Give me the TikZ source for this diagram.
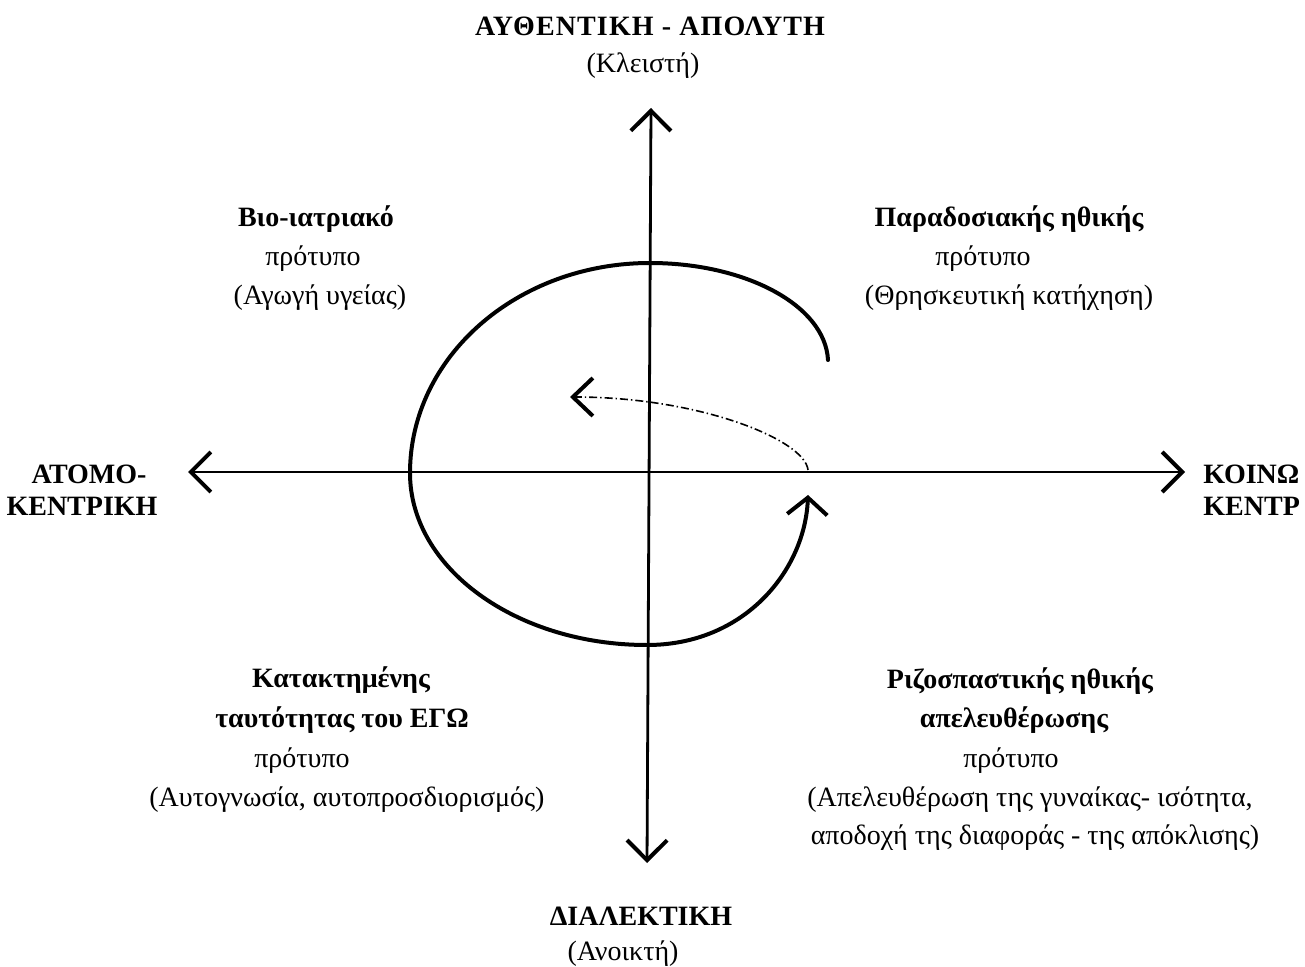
\documentclass[tikz,border=0pt]{standalone}
\usepackage{fontspec}
\setmainfont{Liberation Serif}
\usetikzlibrary{arrows.meta}
\begin{document}
\begin{tikzpicture}[x=0.5pt,y=-0.5pt,
  lbl/.style={inner sep=0pt, anchor=base, font=\fontsize{14}{16}\selectfont},
  blbl/.style={inner sep=0pt, anchor=base, font=\fontsize{14}{16}\selectfont\bfseries},
  lblw/.style={blbl, anchor=base west},
  >={Straight Barb[length=10pt,width=20pt,line width=2pt]},
  axisline/.style={line width=1.4pt, line cap=round, <->},
  spiralline/.style={line width=2pt, line cap=round},
  ddline/.style={line width=0.8pt, dash pattern=on 4pt off 1.5pt on 0.7pt off 1.5pt}
]
\useasboundingbox (0,0) rectangle (1305,967);

% axis end points
\coordinate (top) at (651,108);
\coordinate (bot) at (647,863);
\coordinate (lft) at (188,472);
\coordinate (rgt) at (1185,472);

\draw[axisline] (bot) -- (top);
\draw[axisline] (lft) -- (rgt);

% spiral
\coordinate (s0) at (828,360);
\coordinate (s1) at (808,495);
\draw[spiralline, -{Straight Barb[length=8.5pt,width=20pt,line width=2pt]}]
  (s0) .. controls (825,305) and (745,263) .. (650,263)
       .. controls (517,263) and (410,357) .. (410,473)
       .. controls (410,568) and (516,645) .. (647,645)
       .. controls (745,645) and (805,570) .. (s1);

% dash-dotted return arrow
\coordinate (d0) at (808,470);
\coordinate (d1) at (570,397);
\draw[ddline, -{Straight Barb[length=10pt,width=19pt,line width=2pt]}]
  (d0) .. controls (805,440) and (700,397) .. (d1);

% top
\node[blbl, font=\fontsize{14}{16}\selectfont\bfseries\addfontfeature{LetterSpace=4}] (t1) at (650,36) {ΑΥΘΕΝΤΙΚΗ - ΑΠΟΛΥΤΗ};
\node[lbl]  (t2) at (643,73) {(Κλειστή)};

% bottom
\node[blbl] (b1) at (641,925) {ΔΙΑΛΕΚΤΙΚΗ};
\node[lbl]  (b2) at (623,960) {(Ανοικτή)};

% left
\node[blbl] (l1) at (89,483) {ΑΤΟΜΟ-};
\node[blbl] (l2) at (82,516) {ΚΕΝΤΡΙΚΗ};

% right (cut off by the edge)
\node[lblw] (r1) at (1203,483) {ΚΟΙΝΩ};
\node[lblw] (r2) at (1203,516) {ΚΕΝΤΡ};

% top-left quadrant
\node[blbl] (q1a) at (316,227) {Βιο-ιατριακό};
\node[lbl]  (q1b) at (313,266) {πρότυπο};
\node[lbl]  (q1c) at (320,305) {(Αγωγή υγείας)};

% top-right quadrant
\node[blbl] (q2a) at (1009,227) {Παραδοσιακής ηθικής};
\node[lbl]  (q2b) at (983,266) {πρότυπο};
\node[lbl]  (q2c) at (1009,305) {(Θρησκευτική κατήχηση)};

% bottom-left quadrant
\node[blbl] (q3a) at (341,687) {Κατακτημένης};
\node[blbl] (q3b) at (342,727) {ταυτότητας του ΕΓΩ};
\node[lbl]  (q3c) at (302,767) {πρότυπο};
\node[lbl]  (q3d) at (347,806) {(Αυτογνωσία, αυτοπροσδιορισμός)};

% bottom-right quadrant
\node[blbl] (q4a) at (1020,688) {Ριζοσπαστικής ηθικής};
\node[blbl] (q4b) at (1014,727) {απελευθέρωσης};
\node[lbl]  (q4c) at (1011,767) {πρότυπο};
\node[lbl]  (q4d) at (1030,806) {(Απελευθέρωση της γυναίκας- ισότητα,};
\node[lbl]  (q4e) at (1035,844) {αποδοχή της διαφοράς - της απόκλισης)};
\end{tikzpicture}
\end{document}
